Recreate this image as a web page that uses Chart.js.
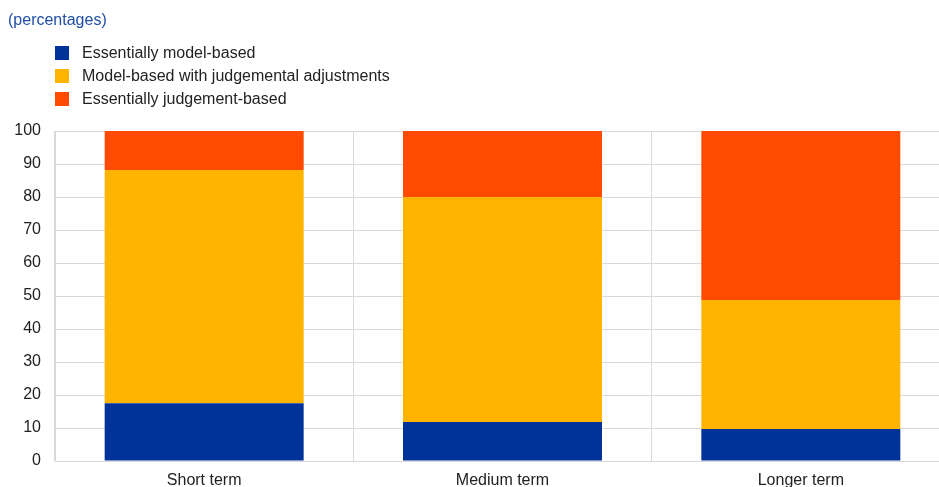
<!DOCTYPE html>
<html>
<head>
<meta charset="utf-8">
<script src="https://cdn.jsdelivr.net/npm/chart.js@4"></script>
<style>
  html, body { margin: 0; padding: 0; background: #fff; overflow: hidden; }
  #wrap { position: relative; width: 951px; height: 500px; font-family: "Liberation Sans", Arial, sans-serif; }
  #chart { position: absolute; left: 0; top: 0; }
  #title { position: absolute; left: 8px; top: 11px; font-size: 16px; line-height: 18px; color: #1f4fa6; }
  #legend { position: absolute; left: 55px; top: 44px; font-size: 16px; color: #222; }
  .item { height: 23px; line-height: 18px; white-space: nowrap; }
  .box { display: inline-block; width: 14px; height: 14px; vertical-align: -2px; margin-right: 13px; }
</style>
</head>
<body>
<div id="wrap">
  <canvas id="chart" width="951" height="500"></canvas>
  <div id="title">(percentages)</div>
  <div id="legend"></div>
</div>
<script>
// categories and series
const categorias = ['Short term', 'Medium term', 'Longer term'];
const modelBased = [17.5, 11.8, 9.7];
const withAdjustments = [70.7, 68.2, 39.1];
const judgementBased = [11.8, 20.0, 51.2];
const yTicks = [0, 10, 20, 30, 40, 50, 60, 70, 80, 90, 100];

const series = [
  { label: 'Essentially model-based', data: modelBased, color: '#003399' },
  { label: 'Model-based with judgemental adjustments', data: withAdjustments, color: '#ffb400' },
  { label: 'Essentially judgement-based', data: judgementBased, color: '#ff4b00' }
];

// legend as html
document.querySelector('#legend').innerHTML = series.map(s =>
  `<div class="item"><span class="box" style="background:${s.color}"></span>${s.label}</div>`
).join('');

Chart.defaults.font.family = '"Liberation Sans", Arial, sans-serif';
Chart.defaults.font.size = 16;
Chart.defaults.color = '#222';

new Chart(document.getElementById('chart'), {
  type: 'bar',
  data: {
    labels: categorias,
    datasets: series.map(s => ({
      label: s.label,
      data: s.data,
      backgroundColor: s.color,
      borderWidth: 0,
      barPercentage: 0.667,
      categoryPercentage: 1
    }))
  },
  options: {
    responsive: false,
    animation: false,
    layout: { padding: { top: 131, right: 1, left: 0, bottom: 0 } },
    plugins: { legend: { display: false }, tooltip: { enabled: false } },
    scales: {
      x: {
        stacked: true,
        grid: { color: '#d9d9d9', drawTicks: false, offset: true },
        border: { color: '#d9d9d9' },
        ticks: { padding: 10, color: '#222' },
        afterFit: s => { s.height = 39; }
      },
      y: {
        stacked: true,
        min: 0,
        max: 100,
        afterBuildTicks: s => { s.ticks = yTicks.map(v => ({ value: v })); },
        grid: { color: '#d9d9d9', drawTicks: false },
        border: { color: '#d9d9d9' },
        ticks: { padding: 14, color: '#222' },
        afterFit: s => { s.width = 55; }
      }
    }
  }
});
</script>
</body>
</html>
